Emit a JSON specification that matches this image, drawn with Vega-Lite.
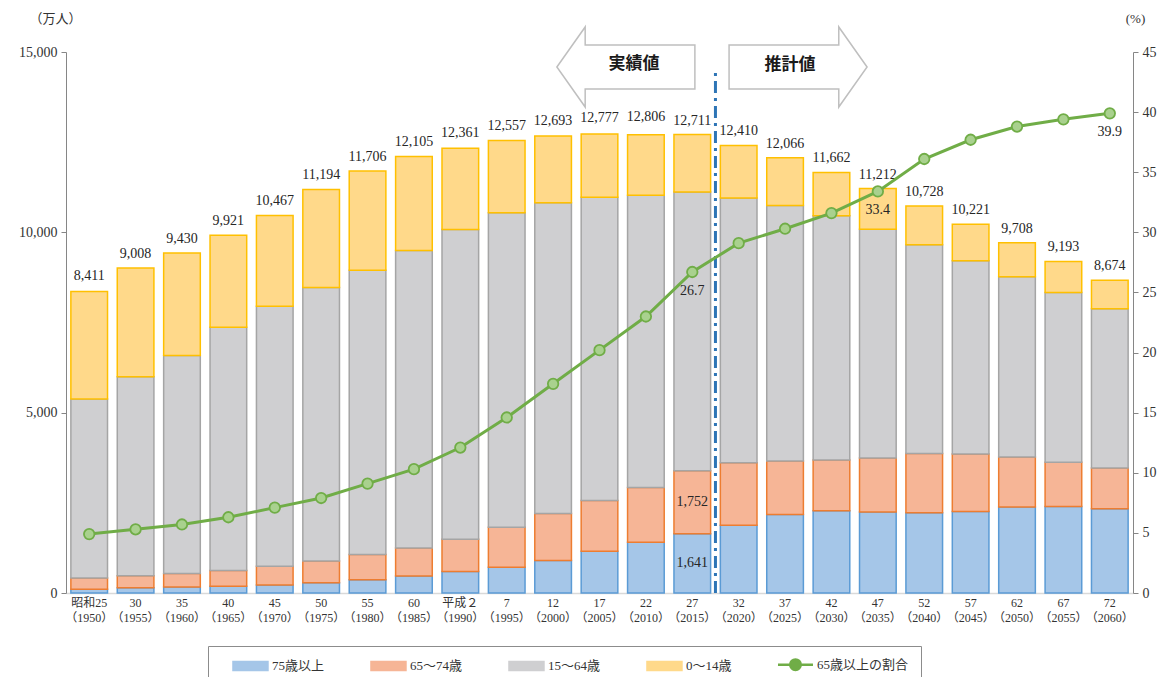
{
  "$schema": "https://vega.github.io/schema/vega-lite/v6.json",
  "width": 1067,
  "height": 541,
  "autosize": {"type": "none"},
  "padding": {"left": 66, "top": 52, "right": 31, "bottom": 84},
  "background": "white",
  "config": {"view": {"stroke": null}, "font": "Liberation Serif, Noto Sans CJK JP"},
  "datasets": {
    "d": [
      {"x": "昭和25|（1950）", "total": 8411, "ratio": 4.9, "0～14歳": 2979, "15～64歳": 4966, "65～74歳": 309, "75歳以上": 107},
      {"x": "30|（1955）", "total": 9008, "ratio": 5.3, "0～14歳": 3012, "15～64歳": 5517, "65～74歳": 332, "75歳以上": 147},
      {"x": "35|（1960）", "total": 9430, "ratio": 5.7, "0～14歳": 2843, "15～64歳": 6047, "65～74歳": 376, "75歳以上": 163},
      {"x": "40|（1965）", "total": 9921, "ratio": 6.3, "0～14歳": 2553, "15～64歳": 6744, "65～74歳": 434, "75歳以上": 190},
      {"x": "45|（1970）", "total": 10467, "ratio": 7.1, "0～14歳": 2515, "15～64歳": 7212, "65～74歳": 516, "75歳以上": 224},
      {"x": "50|（1975）", "total": 11194, "ratio": 7.9, "0～14歳": 2722, "15～64歳": 7581, "65～74歳": 602, "75歳以上": 284},
      {"x": "55|（1980）", "total": 11706, "ratio": 9.1, "0～14歳": 2751, "15～64歳": 7883, "65～74歳": 699, "75歳以上": 366},
      {"x": "60|（1985）", "total": 12105, "ratio": 10.3, "0～14歳": 2603, "15～64歳": 8251, "65～74歳": 776, "75歳以上": 471},
      {"x": "平成２|（1990）", "total": 12361, "ratio": 12.1, "0～14歳": 2249, "15～64歳": 8590, "65～74歳": 892, "75歳以上": 597},
      {"x": "7|（1995）", "total": 12557, "ratio": 14.6, "0～14歳": 2001, "15～64歳": 8716, "65～74歳": 1109, "75歳以上": 717},
      {"x": "12|（2000）", "total": 12693, "ratio": 17.4, "0～14歳": 1847, "15～64歳": 8622, "65～74歳": 1301, "75歳以上": 900},
      {"x": "17|（2005）", "total": 12777, "ratio": 20.2, "0～14歳": 1752, "15～64歳": 8409, "65～74歳": 1407, "75歳以上": 1160},
      {"x": "22|（2010）", "total": 12806, "ratio": 23.0, "0～14歳": 1680, "15～64歳": 8103, "65～74歳": 1517, "75歳以上": 1407},
      {"x": "27|（2015）", "total": 12711, "ratio": 26.7, "0～14歳": 1595, "15～64歳": 7728, "65～74歳": 1752, "75歳以上": 1641},
      {"x": "32|（2020）", "total": 12410, "ratio": 29.1, "0～14歳": 1457, "15～64歳": 7341, "65～74歳": 1733, "75歳以上": 1879},
      {"x": "37|（2025）", "total": 12066, "ratio": 30.3, "0～14歳": 1324, "15～64歳": 7085, "65～74歳": 1479, "75歳以上": 2179},
      {"x": "42|（2030）", "total": 11662, "ratio": 31.6, "0～14歳": 1204, "15～64歳": 6773, "65～74歳": 1407, "75歳以上": 2278},
      {"x": "47|（2035）", "total": 11212, "ratio": 33.4, "0～14歳": 1129, "15～64歳": 6343, "65～74歳": 1496, "75歳以上": 2245},
      {"x": "52|（2040）", "total": 10728, "ratio": 36.1, "0～14歳": 1073, "15～64歳": 5787, "65～74歳": 1645, "75歳以上": 2223},
      {"x": "57|（2045）", "total": 10221, "ratio": 37.7, "0～14歳": 1012, "15～64歳": 5353, "65～74歳": 1600, "75歳以上": 2257},
      {"x": "62|（2050）", "total": 9708, "ratio": 38.8, "0～14歳": 939, "15～64歳": 5001, "65～74歳": 1383, "75歳以上": 2385},
      {"x": "67|（2055）", "total": 9193, "ratio": 39.4, "0～14歳": 861, "15～64歳": 4706, "65～74歳": 1225, "75歳以上": 2401},
      {"x": "72|（2060）", "total": 8674, "ratio": 39.9, "0～14歳": 791, "15～64歳": 4418, "65～74歳": 1128, "75歳以上": 2336}
    ]
  },
  "encoding": {
    "x": {
      "field": "x",
      "type": "nominal",
      "sort": null,
      "scale": {
        "domain": ["昭和25|（1950）", "30|（1955）", "35|（1960）", "40|（1965）", "45|（1970）", "50|（1975）", "55|（1980）", "60|（1985）", "平成２|（1990）", "7|（1995）", "12|（2000）", "17|（2005）", "22|（2010）", "27|（2015）", "32|（2020）", "37|（2025）", "42|（2030）", "47|（2035）", "52|（2040）", "57|（2045）", "62|（2050）", "67|（2055）", "72|（2060）"],
        "paddingInner": 0.21,
        "paddingOuter": 0.105
      },
      "axis": {
        "title": null,
        "labelAngle": 0,
        "labelExpr": "split(datum.label, '|')",
        "labelFontSize": 12,
        "labelColor": "#333333",
        "labelLineHeight": 15,
        "labelPadding": 4,
        "ticks": false,
        "domainColor": "#d9d9d9",
        "domainWidth": 1.5
      }
    }
  },
  "layer": [
    {
      "layer": [
        {
          "data": {"name": "d"},
          "transform": [
            {"fold": ["75歳以上", "65～74歳", "15～64歳", "0～14歳"], "as": ["age", "v"]},
            {"calculate": "indexof(['75歳以上','65～74歳','15～64歳','0～14歳'], datum.age)", "as": "o"}
          ],
          "mark": {"type": "bar", "strokeWidth": 1.5},
          "encoding": {
            "y": {
              "field": "v",
              "type": "quantitative",
              "stack": "zero",
              "title": "（万人）",
              "scale": {"domain": [0, 15000], "nice": false},
              "axis": {
                "orient": "left",
                "values": [0, 5000, 10000, 15000],
                "format": ",",
                "labelExpr": "format(datum.value, ',')",
                "grid": false,
                "domainColor": "#868686",
                "tickColor": "#868686",
                "tickSize": 5,
                "labelFontSize": 14,
                "labelColor": "#333333",
                "labelPadding": 4,
                "titleAngle": 0,
                "titleAlign": "center",
                "titleBaseline": "middle",
                "titleX": -11,
                "titleY": -34,
                "titleFontSize": 13,
                "titleFontWeight": "normal",
                "titleColor": "#333333"
              }
            },
            "color": {
              "field": "age",
              "type": "nominal",
              "scale": {
                "domain": ["75歳以上", "65～74歳", "15～64歳", "0～14歳", "65歳以上の割合"],
                "range": ["#a5c6e8", "#f6b596", "#cfcfd1", "#ffd98a", "#70ad47"]
              },
              "legend": {
                "title": null,
                "orient": "none",
                "legendX": 142,
                "legendY": 594,
                "direction": "horizontal",
                "columns": 5,
                "columnPadding": 33,
                "padding": 12,
                "strokeColor": "#8c8c8c",
                "fillColor": "white",
                "symbolType": "M0.37,-0.26H2.37V0.26H0.37Z",
                "labelFontSize": 13,
                "labelColor": "#333333",
                "labelOffset": 39,
                "encode": {
                  "symbols": {
                    "update": {
                      "size": {"value": 1225},
                      "shape": {"signal": "datum.value === '65歳以上の割合' ? 'M0.37,0H1.07M1.67,0H2.37M1.07,0A0.3,0.3 0 1,1 1.67,0A0.3,0.3 0 1,1 1.07,0Z' : 'M0.37,-0.26H2.37V0.26H0.37Z'"},
                      "fill": {"signal": "datum.value === '75歳以上' ? '#a5c6e8' : datum.value === '65～74歳' ? '#f6b596' : datum.value === '15～64歳' ? '#cfcfd1' : datum.value === '0～14歳' ? '#ffd98a' : '#a9d18e'"},
                      "stroke": {"signal": "datum.value === '75歳以上' ? '#5b9bd5' : datum.value === '65～74歳' ? '#ed7d31' : datum.value === '15～64歳' ? '#a5a5a5' : datum.value === '0～14歳' ? '#ffc000' : '#70ad47'"},
                      "strokeWidth": {"signal": "datum.value === '65歳以上の割合' ? 2.5 : 1.5"},
                      "opacity": {"value": 1}
                    }
                  }
                }
              }
            },
            "stroke": {
              "field": "age",
              "type": "nominal",
              "scale": {
                "domain": ["75歳以上", "65～74歳", "15～64歳", "0～14歳"],
                "range": ["#5b9bd5", "#ed7d31", "#a5a5a5", "#ffc000"]
              },
              "legend": null
            },
            "order": {"field": "o", "type": "quantitative", "sort": "ascending"}
          }
        },
        {
          "data": {"name": "d"},
          "mark": {"type": "text", "baseline": "bottom", "dy": -7, "fontSize": 14, "color": "#262626"},
          "encoding": {
            "y": {"field": "total", "type": "quantitative", "title": "（万人）", "axis": {"format": ","}},
            "text": {"field": "total", "type": "quantitative", "format": ","}
          }
        },
        {
          "data": {"name": "d"},
          "transform": [
            {"fold": ["75歳以上", "65～74歳"], "as": ["age", "v"]},
            {"calculate": "indexof(['75歳以上','65～74歳'], datum.age)", "as": "o"},
            {"filter": "datum.x === '27|（2015）'"},
            {"stack": "v", "groupby": ["x"], "sort": [{"field": "o"}], "as": ["v0", "v1"]},
            {"calculate": "(datum.v0 + datum.v1) / 2", "as": "m"}
          ],
          "mark": {"type": "text", "baseline": "middle", "fontSize": 14, "color": "#262626"},
          "encoding": {
            "y": {"field": "m", "type": "quantitative", "title": "（万人）", "axis": {"format": ","}},
            "text": {"field": "v", "type": "quantitative", "format": ","}
          }
        },
        {
          "data": {"values": [{"x": "32|（2020）"}]},
          "mark": {"type": "rule", "color": "#2e75b6", "strokeWidth": 3, "strokeDash": [12, 5, 3, 5], "xOffset": -4.9},
          "encoding": {
            "x": {"field": "x", "type": "nominal", "bandPosition": 0},
            "y": {"datum": 0, "type": "quantitative", "title": "（万人）", "axis": {"format": ","}},
            "y2": {"datum": 14550}
          }
        },
        {
          "data": {"values": [{"x": "22|（2010）"}]},
          "mark": {"type": "point", "shape": "M-1,0L-0.59,-0.58L-0.59,-0.32L1,-0.32L1,0.32L-0.59,0.32L-0.59,0.58Z", "size": 19044, "filled": true, "fill": "white", "stroke": "#bfbfbf", "strokeWidth": 1.5, "opacity": 1, "xOffset": -20},
          "encoding": {"y": {"datum": 14584, "type": "quantitative", "title": "（万人）", "axis": {"format": ","}}}
        },
        {
          "data": {"values": [{"x": "22|（2010）"}]},
          "mark": {"type": "text", "text": "実績値", "font": "Noto Sans CJK JP", "fontSize": 17, "fontWeight": "bold", "color": "#1a1a1a", "dx": -12, "dy": -3, "baseline": "middle"},
          "encoding": {"y": {"datum": 14584, "type": "quantitative", "title": "（万人）", "axis": {"format": ","}}}
        },
        {
          "data": {"values": [{"x": "37|（2025）"}]},
          "mark": {"type": "point", "shape": "M1,0L0.59,-0.58L0.59,-0.32L-1,-0.32L-1,0.32L0.59,0.32L0.59,0.58Z", "size": 19044, "filled": true, "fill": "white", "stroke": "#bfbfbf", "strokeWidth": 1.5, "opacity": 1, "xOffset": 13},
          "encoding": {"y": {"datum": 14584, "type": "quantitative", "title": "（万人）", "axis": {"format": ","}}}
        },
        {
          "data": {"values": [{"x": "37|（2025）"}]},
          "mark": {"type": "text", "text": "推計値", "font": "Noto Sans CJK JP", "fontSize": 17, "fontWeight": "bold", "color": "#1a1a1a", "dx": 5, "dy": -2, "baseline": "middle"},
          "encoding": {"y": {"datum": 14584, "type": "quantitative", "title": "（万人）", "axis": {"format": ","}}}
        }
      ]
    },
    {
      "layer": [
        {
          "data": {"name": "d"},
          "mark": {"type": "line", "strokeWidth": 3},
          "encoding": {
            "y": {
              "field": "ratio",
              "type": "quantitative",
              "title": "(%)",
              "scale": {"domain": [0, 45], "nice": false},
              "axis": {
                "orient": "right",
                "values": [0, 5, 10, 15, 20, 25, 30, 35, 40, 45],
                "grid": false,
                "domainColor": "#868686",
                "tickColor": "#868686",
                "tickSize": 5,
                "labelFontSize": 14,
                "labelColor": "#333333",
                "labelPadding": 4,
                "titleAngle": 0,
                "titleAlign": "center",
                "titleBaseline": "middle",
                "titleX": 2,
                "titleY": -34,
                "titleFontSize": 13,
                "titleFontWeight": "normal",
                "titleColor": "#333333"
              }
            },
            "color": {"datum": "65歳以上の割合"}
          }
        },
        {
          "data": {"name": "d"},
          "mark": {"type": "point", "filled": true, "size": 110, "fill": "#a9d18e", "stroke": "#70ad47", "strokeWidth": 1.8, "opacity": 1},
          "encoding": {"y": {"field": "ratio", "type": "quantitative", "title": "(%)"}}
        },
        {
          "data": {"name": "d"},
          "transform": [{"filter": "datum.x === '27|（2015）' || datum.x === '47|（2035）' || datum.x === '72|（2060）'"}],
          "mark": {"type": "text", "baseline": "top", "dy": 12, "fontSize": 14, "color": "#262626"},
          "encoding": {
            "y": {"field": "ratio", "type": "quantitative", "title": "(%)"},
            "text": {"field": "ratio", "type": "quantitative", "format": ".1f"}
          }
        }
      ]
    }
  ],
  "resolve": {"scale": {"y": "independent"}}
}
